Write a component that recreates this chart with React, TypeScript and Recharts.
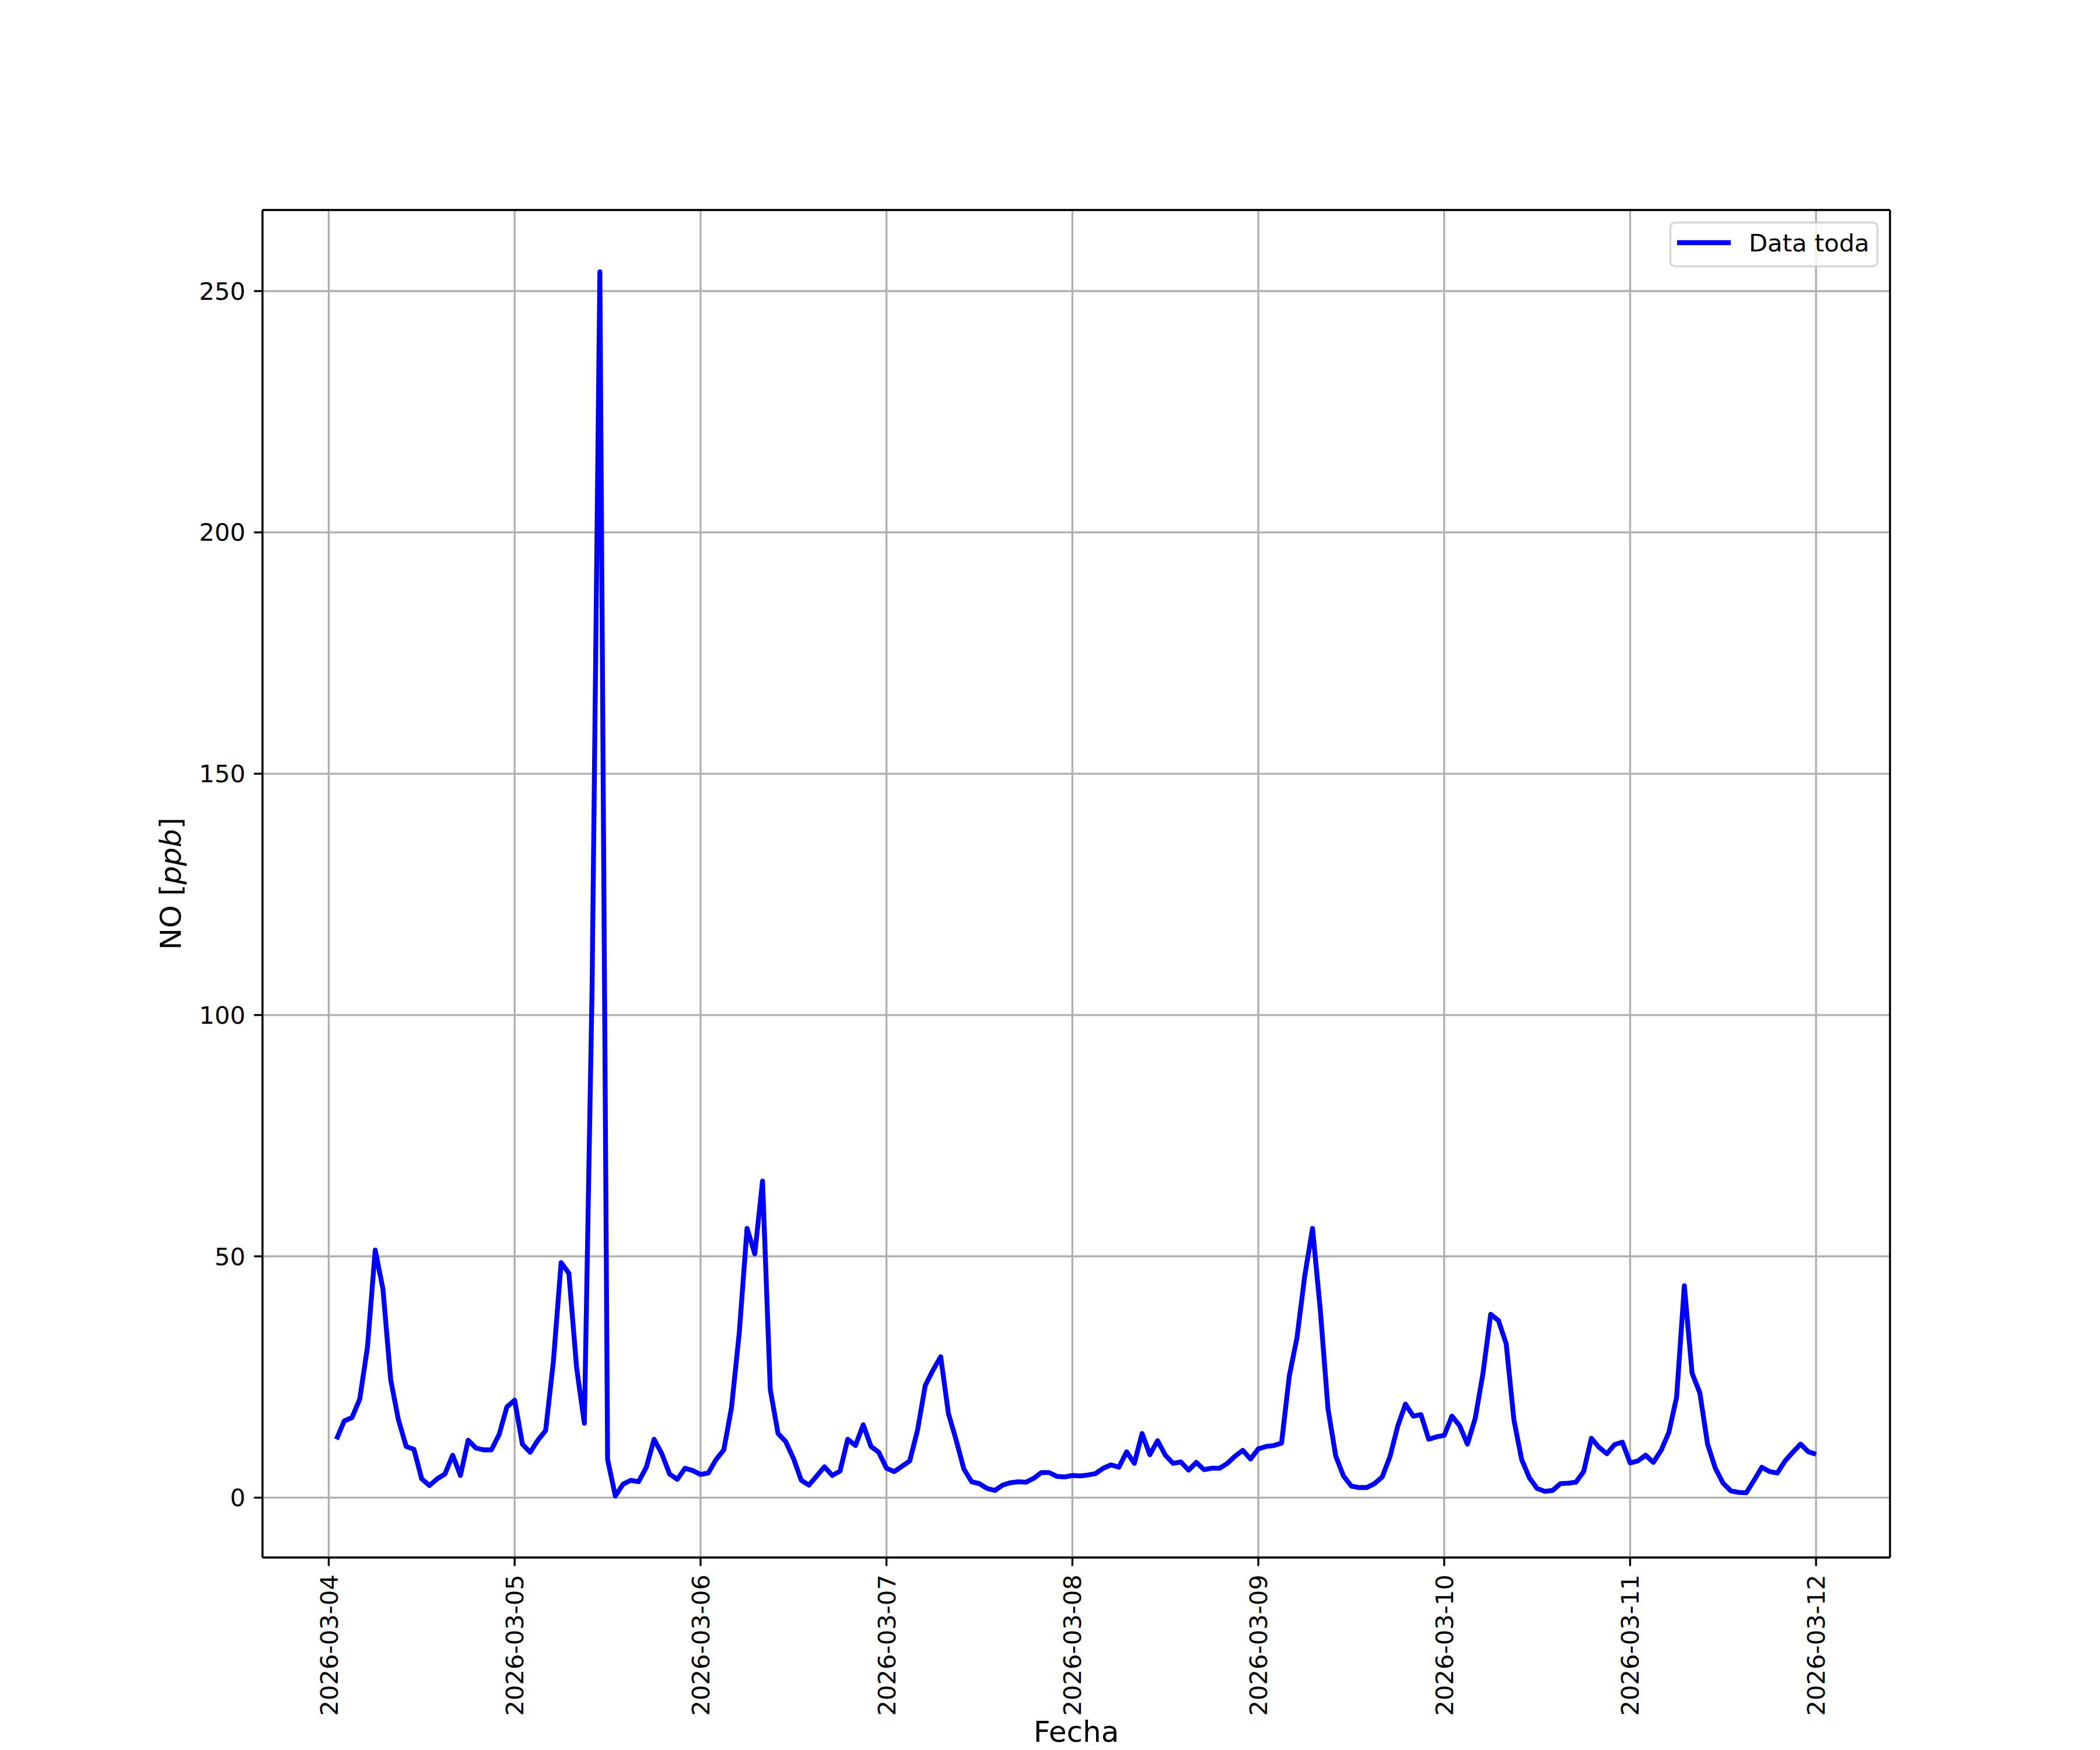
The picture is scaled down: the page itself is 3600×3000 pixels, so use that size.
import React from 'react';
import { LineChart, Line, XAxis, YAxis, CartesianGrid, ReferenceLine, Legend } from 'recharts';

// Hourly NO values [ppb]; each day array holds hours 01:00 .. 24:00 (next midnight)
const no_2026_03_04 = [12.1, 15.9, 16.6, 20.4, 31.2, 51.3, 43.2, 24.4, 16.1, 10.6, 10.0, 3.9, 2.5, 3.9, 4.9, 8.8, 4.6, 11.9, 10.3, 9.9, 9.9, 13.1, 18.8, 20.2];
const no_2026_03_05 = [11.1, 9.4, 11.9, 13.9, 28.2, 48.7, 46.5, 26.9, 15.4, 106.0, 254.0, 7.9, 0.35, 2.8, 3.6, 3.3, 6.3, 12.1, 9.1, 4.9, 3.8, 6.1, 5.6, 4.8];
const no_2026_03_06 = [5.1, 7.9, 9.9, 18.7, 34.2, 55.8, 50.5, 65.6, 22.4, 13.3, 11.6, 8.1, 3.6, 2.6, 4.5, 6.4, 4.6, 5.5, 12.1, 10.8, 15.1, 10.6, 9.4, 6.1];
const no_2026_03_07 = [5.4, 6.5, 7.6, 13.9, 23.2, 26.4, 29.2, 17.4, 11.9, 5.9, 3.3, 2.9, 1.9, 1.5, 2.6, 3.1, 3.3, 3.2, 4.0, 5.2, 5.2, 4.4, 4.3, 4.6];
const no_2026_03_08 = [4.5, 4.7, 5.0, 6.1, 6.8, 6.3, 9.5, 7.1, 13.3, 8.9, 11.8, 8.8, 7.1, 7.4, 5.7, 7.3, 5.8, 6.1, 6.1, 7.1, 8.6, 9.8, 8.0, 10.1];
const no_2026_03_09 = [10.6, 10.8, 11.3, 25.2, 33.2, 46.0, 55.8, 39.0, 18.4, 8.6, 4.5, 2.4, 2.1, 2.1, 2.9, 4.3, 8.5, 14.8, 19.4, 16.9, 17.2, 12.1, 12.6, 12.9];
const no_2026_03_10 = [16.9, 14.9, 11.1, 16.4, 25.7, 38.0, 36.7, 31.9, 16.1, 7.9, 4.1, 1.9, 1.3, 1.5, 2.9, 3.0, 3.2, 5.4, 12.3, 10.4, 9.1, 11.0, 11.5, 7.2];
const no_2026_03_11 = [7.6, 8.8, 7.3, 9.8, 13.5, 20.8, 43.9, 25.8, 21.7, 11.1, 6.1, 3.0, 1.4, 1.1, 1.0, 3.6, 6.3, 5.4, 5.1, 7.6, 9.4, 11.1, 9.5, 9.0];

const dayLabels = ['2026-03-04', '2026-03-05', '2026-03-06', '2026-03-07', '2026-03-08', '2026-03-09', '2026-03-10', '2026-03-11', '2026-03-12'];
const xTickHours = [0, 24, 48, 72, 96, 120, 144, 168, 192];
const yTicks = [0, 50, 100, 150, 200, 250];
const seriesName = 'Data toda';

const allValues = [
  ...no_2026_03_04, ...no_2026_03_05, ...no_2026_03_06, ...no_2026_03_07,
  ...no_2026_03_08, ...no_2026_03_09, ...no_2026_03_10, ...no_2026_03_11,
];
// x = hours since 2026-03-04 00:00
const data = allValues.map((v, i) => ({ h: i + 1, no: v }));

const X_DOMAIN: [number, number] = [-8.55, 201.55];
const Y_DOMAIN: [number, number] = [-12.4, 266.8];

const FONT = '"DejaVu Sans", sans-serif';
const TICK_FS = 41.7;
const LABEL_FS = 50;
const SPINE_W = 3.33;

const XTick = (props: any) => {
  const { x, y, payload } = props;
  const idx = xTickHours.indexOf(payload.value);
  const label = idx >= 0 ? dayLabels[idx] : '';
  return (
    <text
      x={x}
      y={y}
      transform={`rotate(-90, ${x}, ${y})`}
      textAnchor="end"
      dy="0.36em"
      fontSize={TICK_FS}
      fontFamily={FONT}
      fill="#000"
    >
      {label}
    </text>
  );
};

const XLabel = (props: any) => {
  const vb = props.viewBox || {};
  return (
    <text x={vb.x + vb.width / 2} y={2986} textAnchor="middle" fontSize={LABEL_FS} fontFamily={FONT} fill="#000">
      Fecha
    </text>
  );
};

const YLabel = (props: any) => {
  const vb = props.viewBox || {};
  const cx = 310;
  const cy = vb.y + vb.height / 2;
  return (
    <text x={cx} y={cy} transform={`rotate(-90, ${cx}, ${cy})`} textAnchor="middle" fontSize={LABEL_FS} fontFamily={FONT} fill="#000">
      NO [<tspan fontStyle="italic">ppb</tspan>]
    </text>
  );
};

const LegendBox = (props: any) => {
  const payload = (props.payload || [])[0] || { color: '#0000ff', value: seriesName };
  return (
    <svg width={358} height={78} style={{ display: 'block', overflow: 'visible' }}>
      <rect x={1.5} y={1.5} width={355} height={75} rx={8} ry={8}
        fill="rgba(255,255,255,0.8)" stroke="rgba(204,204,204,0.8)" strokeWidth={SPINE_W} />
      <line x1={13} y1={36} x2={105} y2={36} stroke={payload.color} strokeWidth={8.33} />
      <text x={136} y={50.5} fontSize={TICK_FS} fontFamily={FONT} fill="#000">{payload.value}</text>
    </svg>
  );
};

export default function App() {
  return (
    <div style={{ position: 'absolute', left: 0, top: 0, width: 3600, height: 3000, background: '#fff' }}>
      <LineChart
        width={3600}
        height={3000}
        data={data}
        margin={{ top: 360, right: 360, bottom: 0, left: 0 }}
      >
        <CartesianGrid stroke="#b0b0b0" strokeWidth={SPINE_W} />
        <XAxis
          dataKey="h"
          type="number"
          domain={X_DOMAIN}
          ticks={xTickHours}
          allowDataOverflow
          height={330}
          interval={0}
          tickSize={14.6}
          tickMargin={14.6}
          axisLine={{ stroke: '#000', strokeWidth: SPINE_W }}
          tickLine={{ stroke: '#000', strokeWidth: SPINE_W }}
          tick={<XTick />}
          label={<XLabel />}
        />
        <YAxis
          type="number"
          domain={Y_DOMAIN}
          ticks={yTicks}
          allowDataOverflow
          width={450}
          interval={0}
          tickSize={14.6}
          tickMargin={14.6}
          axisLine={{ stroke: '#000', strokeWidth: SPINE_W }}
          tickLine={{ stroke: '#000', strokeWidth: SPINE_W }}
          tick={{ fontSize: TICK_FS, fontFamily: FONT, fill: '#000' }}
          label={<YLabel />}
        />
        <ReferenceLine y={Y_DOMAIN[1]} stroke="#000" strokeWidth={SPINE_W} ifOverflow="extendDomain" />
        <ReferenceLine x={X_DOMAIN[1]} stroke="#000" strokeWidth={SPINE_W} ifOverflow="extendDomain" />
        <Line
          type="linear"
          dataKey="no"
          name={seriesName}
          stroke="#0000ff"
          strokeWidth={8.33}
          strokeLinejoin="round"
          dot={false}
          activeDot={false}
          isAnimationActive={false}
        />
        <Legend
          layout="horizontal"
          align="center"
          verticalAlign="middle"
          content={<LegendBox />}
          wrapperStyle={{ position: 'absolute', top: 380, left: 2862, width: 358, height: 78 }}
        />
      </LineChart>
    </div>
  );
}
